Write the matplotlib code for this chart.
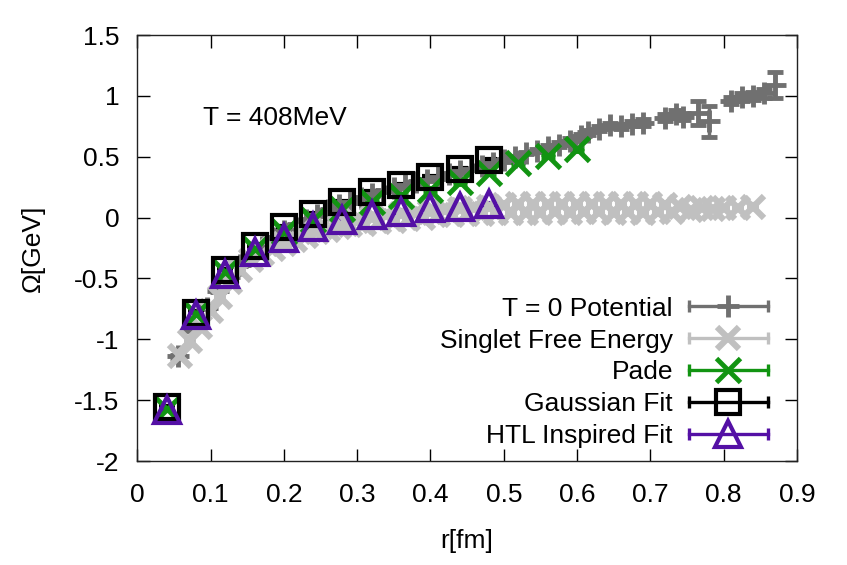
import numpy as np
import matplotlib
matplotlib.use('Agg')
import matplotlib.pyplot as plt
from matplotlib.lines import Line2D
from matplotlib.legend_handler import HandlerBase
from matplotlib.container import ErrorbarContainer

plt.rcParams['font.family'] = ['Liberation Sans', 'DejaVu Sans']
plt.rcParams['font.size'] = 19

# T = 0 potential
r_pot = [0.055, 0.075, 0.095, 0.11, 0.125, 0.14, 0.155, 0.17, 0.185, 0.20, 0.215, 0.23, 0.245, 0.26,
         0.275, 0.29, 0.305, 0.32, 0.335, 0.35, 0.365, 0.38, 0.395, 0.41, 0.425, 0.44, 0.455, 0.47,
         0.485, 0.50, 0.515, 0.53, 0.545, 0.56, 0.575, 0.59, 0.605, 0.615, 0.63, 0.645, 0.66, 0.675,
         0.69, 0.72, 0.735, 0.745, 0.765, 0.78, 0.81, 0.825, 0.84, 0.855, 0.87]
v_pot = [-1.14, -0.92, -0.74, -0.60, -0.49, -0.39, -0.31, -0.24, -0.17, -0.11, -0.06, -0.02, 0.02, 0.06,
         0.10, 0.13, 0.16, 0.19, 0.22, 0.24, 0.27, 0.29, 0.31, 0.33, 0.36, 0.38, 0.40, 0.42,
         0.45, 0.47, 0.50, 0.53, 0.55, 0.58, 0.60, 0.63, 0.67, 0.70, 0.73, 0.76, 0.75, 0.77,
         0.78, 0.82, 0.85, 0.83, 0.86, 0.79, 0.96, 0.99, 1.00, 1.02, 1.09]
e_pot = [0.01, 0.01, 0.01, 0.01, 0.01, 0.01, 0.01, 0.01, 0.01, 0.01, 0.01, 0.01, 0.01, 0.01,
         0.01, 0.01, 0.01, 0.01, 0.01, 0.01, 0.01, 0.01, 0.01, 0.01, 0.01, 0.01, 0.01, 0.01,
         0.01, 0.01, 0.01, 0.01, 0.01, 0.02, 0.02, 0.02, 0.02, 0.02, 0.02, 0.02, 0.02, 0.02,
         0.03, 0.03, 0.03, 0.03, 0.10, 0.13, 0.03, 0.03, 0.03, 0.04, 0.11]

# singlet free energy
r_sing = [0.058, 0.072, 0.086, 0.100, 0.113, 0.127, 0.140, 0.155, 0.170, 0.185, 0.200, 0.215, 0.230,
          0.245, 0.260, 0.275, 0.290, 0.300, 0.310, 0.320, 0.330, 0.340, 0.350, 0.360, 0.370, 0.380,
          0.390, 0.400, 0.410, 0.420, 0.430, 0.440, 0.450, 0.460, 0.470, 0.480, 0.490, 0.500, 0.510,
          0.520, 0.530, 0.540, 0.550, 0.560, 0.570, 0.580, 0.590, 0.600, 0.610, 0.620, 0.630, 0.640,
          0.650, 0.660, 0.670, 0.680, 0.690, 0.700, 0.710, 0.720, 0.730, 0.740, 0.755, 0.770, 0.785,
          0.800, 0.820, 0.840]
v_sing = [-1.14, -1.01, -0.90, -0.77, -0.65, -0.53, -0.43, -0.35, -0.30, -0.26, -0.22, -0.18, -0.15,
          -0.12, -0.10, -0.08, -0.06, -0.03, -0.05, 0.00, -0.04, 0.02, -0.03, 0.03, -0.01, 0.04,
          0.00, 0.05, 0.02, 0.06, 0.02, 0.07, 0.03, 0.08, 0.03, 0.09, 0.04, 0.10, 0.04,
          0.11, 0.04, 0.11, 0.04, 0.11, 0.05, 0.11, 0.04, 0.11, 0.05, 0.11, 0.05, 0.11,
          0.04, 0.11, 0.05, 0.11, 0.04, 0.11, 0.05, 0.10, 0.05, 0.09, 0.06, 0.08, 0.07,
          0.08, 0.08, 0.09]

# fits
r_fit = [0.04, 0.08, 0.12, 0.16, 0.20, 0.24, 0.28, 0.32, 0.36, 0.40, 0.44, 0.48]
r_pade = r_fit + [0.52, 0.56, 0.60]
v_pade = [-1.57, -0.79, -0.45, -0.26, -0.12, -0.02, 0.07, 0.13, 0.18, 0.23, 0.29, 0.37, 0.45, 0.51, 0.56]
v_gauss = [-1.56, -0.78, -0.43, -0.23, -0.08, 0.03, 0.13, 0.21, 0.27, 0.33, 0.40, 0.47]
v_htl = [-1.58, -0.80, -0.46, -0.28, -0.17, -0.08, -0.02, 0.02, 0.05, 0.08, 0.09, 0.11]

c_pot = '#707070'
c_sing = '#c0c0c0'
c_pade = '#129412'
c_gauss = 'black'
c_htl = '#5410a5'


class GnuplotKey(HandlerBase):
    # horizontal bar with end caps and the point in the middle, like gnuplot's key
    def create_artists(self, legend, orig_handle, xdescent, ydescent, width, height, fontsize, trans):
        src = orig_handle.lines[0]
        col = src.get_markeredgecolor()
        y = height / 2.0 - ydescent
        x0, x1 = -xdescent, width - xdescent
        bar = Line2D([x0, x1], [y, y], color=col, lw=2.4)
        caps = Line2D([x0, x1], [y, y], ls='none', marker='|', ms=9, mew=2.4, color=col)
        pt = Line2D([(x0 + x1) / 2.0], [y], ls='none', marker=src.get_marker(),
                    ms=src.get_markersize(), mew=src.get_markeredgewidth(),
                    mec=col, mfc='none')
        out = [bar, caps, pt]
        for a in out:
            a.set_transform(trans)
        return out


fig = plt.figure(figsize=(8.47, 5.65), dpi=100)
ax = fig.add_axes([0.162, 0.184, 0.779, 0.754])

h1 = ax.errorbar(r_pot, v_pot, yerr=e_pot, fmt='+', color=c_pot, ms=16, mew=3.5, elinewidth=2.5,
                 capsize=6, capthick=3, label='T = 0 Potential')
h2 = ax.errorbar(r_sing, v_sing, yerr=0.01, fmt='x', color=c_sing, ms=16, mew=4.5, elinewidth=2,
                 capsize=4, capthick=2, label='Singlet Free Energy')
h3 = ax.errorbar(r_pade, v_pade, yerr=0.01, fmt='x', color=c_pade, ms=17, mew=3.5, elinewidth=2,
                 capsize=5, capthick=2.5, label='Pade')
h4 = ax.errorbar(r_fit, v_gauss, yerr=0.01, fmt='s', color=c_gauss, mfc='none', ms=17, mew=3,
                 elinewidth=2, capsize=6, capthick=3, label='Gaussian Fit')
h5 = ax.errorbar(r_fit, v_htl, yerr=0.01, fmt='^', color=c_htl, mfc='none', ms=19, mew=3,
                 elinewidth=2, capsize=6, capthick=2.5, label='HTL Inspired Fit')

ax.set_xlim(0, 0.9)
ax.set_ylim(-2, 1.5)
ax.set_xticks(np.arange(0, 0.91, 0.1))
ax.set_xticklabels(['0', '0.1', '0.2', '0.3', '0.4', '0.5', '0.6', '0.7', '0.8', '0.9'],
                   family=['Liberation Sans Narrow', 'Liberation Sans'])
ax.set_yticks(np.arange(-2, 1.51, 0.5))
ax.set_yticklabels(['-2', '-1.5', '-1', '-0.5', '0', '0.5', '1', '1.5'])
ax.tick_params(direction='in', top=True, right=True, length=9, width=1, labelsize=19)
ax.tick_params(axis='x', pad=16)
ax.tick_params(axis='y', pad=13)
for s in ax.spines.values():
    s.set_linewidth(1)
    s.set_color('#222222')

ax.set_xlabel('r[fm]', fontsize=19, labelpad=16, family=['Liberation Sans Narrow', 'Liberation Sans'])
ax.set_ylabel('Ω[GeV]', fontsize=19, labelpad=21)
ax.text(0.09, 0.82, 'T = 408MeV', fontsize=19, va='center', ha='left')

leg = ax.legend(handles=[h1, h2, h3, h4, h5], loc='lower right', bbox_to_anchor=(0.956, 0.03),
                frameon=False, markerfirst=False, handlelength=3.0, handletextpad=0.6,
                labelspacing=0.3, borderaxespad=0, borderpad=0, fontsize=19,
                handler_map={ErrorbarContainer: GnuplotKey()})

fig.savefig('out.png', dpi=100)
